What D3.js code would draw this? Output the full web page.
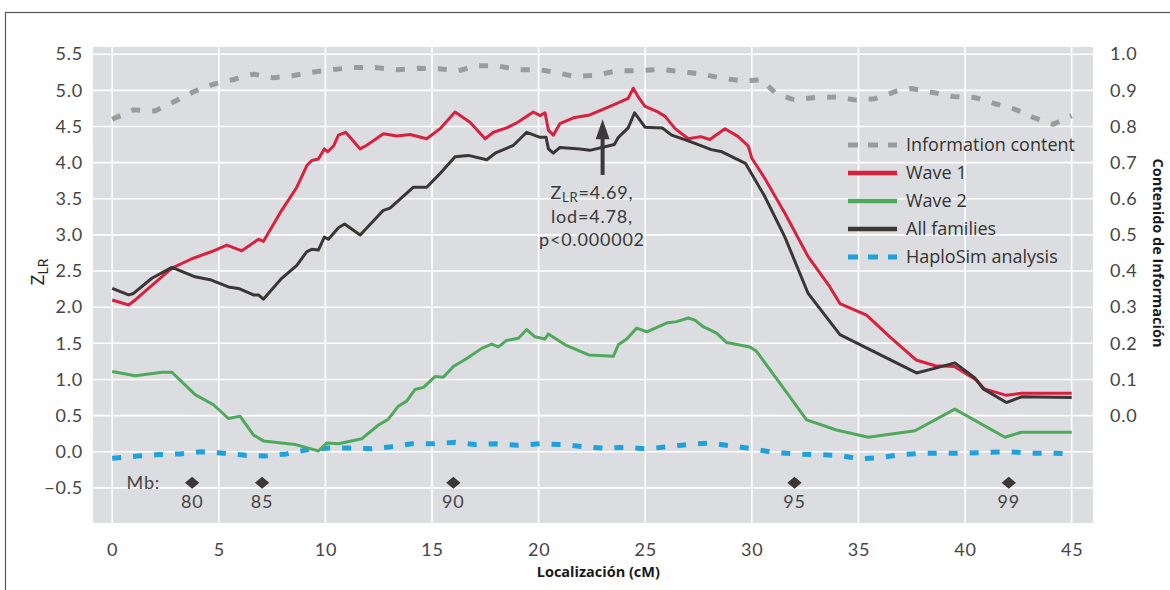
<!DOCTYPE html>
<html>
<head>
<meta charset="utf-8">
<script src="https://cdn.jsdelivr.net/npm/d3@7"></script>
<style>
  html, body { margin: 0; padding: 0; background: #fff; }
  svg { display: block; }
  .tick-lbl { font-family: Lato, "Noto Sans", sans-serif; font-size: 18px; fill: #454545; letter-spacing: 0.8px; }
  .legend-lbl { font-family: "Open Sans", "Noto Sans", sans-serif; font-size: 18px; fill: #333; }
  .axis-title { font-family: "Open Sans", "Noto Sans", sans-serif; font-weight: 700; font-size: 14.5px; fill: #1a1a1a; }
</style>
</head>
<body>
<svg id="chart" width="1170" height="590"></svg>
<script>
// ---- data: linkage scan along the region (position in cM) ----
const wave1Pos = [0, 0.77, 1.08, 2.8, 3.74, 4.67, 5.38, 6.08, 6.86, 7.09, 7.95, 8.66, 9.13, 9.36, 9.67, 9.95, 10.11, 10.38, 10.61, 10.95, 11.63, 11.94, 12.72, 13.35, 13.97, 14.75, 15.38, 16.08, 16.78, 17.49, 17.88, 18.5, 18.97, 19.75, 20.07, 20.3, 20.46, 20.69, 21.0, 21.63, 22.4, 23.43, 24.2, 24.44, 24.67, 24.99, 25.54, 25.93, 26.4, 27.02, 27.6, 28.03, 28.74, 29.36, 29.83, 30.0, 30.61, 31.55, 32.64, 33.66, 34.13, 35.38, 36.47, 37.7, 38.6, 39.5, 40.54, 40.9, 41.94, 42.65, 45.0];
const wave1Z = [2.10, 2.03, 2.10, 2.54, 2.67, 2.77, 2.86, 2.78, 2.94, 2.91, 3.34, 3.66, 3.96, 4.03, 4.05, 4.19, 4.15, 4.23, 4.38, 4.42, 4.19, 4.24, 4.40, 4.37, 4.39, 4.33, 4.47, 4.70, 4.56, 4.33, 4.42, 4.48, 4.55, 4.70, 4.65, 4.69, 4.45, 4.38, 4.54, 4.62, 4.66, 4.79, 4.89, 5.03, 4.91, 4.78, 4.71, 4.64, 4.47, 4.33, 4.36, 4.32, 4.47, 4.36, 4.23, 4.06, 3.78, 3.30, 2.70, 2.28, 2.05, 1.89, 1.59, 1.27, 1.19, 1.18, 0.99, 0.87, 0.78, 0.81, 0.81];

const wave2Pos = [0, 1.08, 2.33, 2.8, 3.89, 4.75, 5.45, 6.0, 6.63, 7.09, 8.58, 9.2, 9.67, 10.06, 10.61, 11.71, 12.49, 12.95, 13.42, 13.81, 14.2, 14.6, 15.14, 15.53, 16.0, 16.63, 17.33, 17.8, 18.11, 18.5, 19.05, 19.44, 19.83, 20.3, 20.46, 21.24, 22.35, 23.5, 23.74, 24.13, 24.6, 25.07, 26.0, 26.47, 27.02, 27.33, 27.72, 28.35, 28.82, 29.91, 30.22, 32.57, 33.97, 35.46, 37.65, 39.52, 41.87, 42.65, 45.0];
const wave2Z = [1.11, 1.05, 1.10, 1.10, 0.79, 0.65, 0.46, 0.49, 0.23, 0.15, 0.10, 0.05, 0.01, 0.12, 0.11, 0.18, 0.37, 0.45, 0.63, 0.70, 0.86, 0.89, 1.04, 1.03, 1.18, 1.29, 1.43, 1.49, 1.45, 1.54, 1.57, 1.69, 1.59, 1.56, 1.63, 1.48, 1.34, 1.32, 1.48, 1.56, 1.71, 1.66, 1.78, 1.80, 1.85, 1.82, 1.73, 1.64, 1.51, 1.45, 1.39, 0.44, 0.30, 0.20, 0.29, 0.59, 0.20, 0.27, 0.27];

const allPos = [0, 0.77, 1.0, 1.86, 2.8, 3.89, 4.59, 5.45, 5.92, 6.63, 6.86, 7.09, 7.95, 8.66, 9.13, 9.36, 9.67, 9.95, 10.14, 10.61, 10.9, 11.63, 12.72, 13.03, 14.13, 14.75, 15.38, 16.08, 16.7, 17.57, 17.96, 18.82, 19.44, 20.07, 20.35, 20.46, 20.69, 21.0, 21.94, 22.4, 23.55, 23.74, 24.2, 24.5, 24.99, 25.8, 26.24, 27.02, 28.1, 28.6, 29.7, 30.61, 31.55, 32.64, 34.13, 37.72, 38.66, 39.52, 40.46, 40.85, 41.94, 42.65, 45.0];
const allZ = [2.26, 2.17, 2.19, 2.40, 2.55, 2.42, 2.38, 2.28, 2.26, 2.17, 2.17, 2.11, 2.40, 2.58, 2.77, 2.80, 2.79, 2.97, 2.94, 3.10, 3.15, 3.00, 3.34, 3.37, 3.66, 3.66, 3.85, 4.08, 4.10, 4.04, 4.13, 4.24, 4.42, 4.35, 4.35, 4.19, 4.13, 4.21, 4.19, 4.17, 4.25, 4.35, 4.48, 4.69, 4.49, 4.48, 4.38, 4.30, 4.18, 4.15, 3.99, 3.53, 2.97, 2.19, 1.62, 1.09, 1.16, 1.23, 1.02, 0.87, 0.68, 0.76, 0.75];

const haploPos = [0, 1.2, 2.17, 3.19, 4.2, 5.22, 6.24, 7.17, 8.19, 9.2, 10.14, 11.1, 12.17, 13.1, 14.05, 15.06, 16.08, 17.02, 18.0, 19.05, 20.07, 21.1, 22.1, 23.0, 24.0, 25.07, 26.08, 27.02, 28.04, 29.05, 30.06, 31.0, 32.0, 33.05, 34.05, 35.07, 36.0, 37.02, 38.04, 39.0, 40.0, 41.1, 42.02, 43.1, 44.1, 45.0];
const haploZ = [-0.09, -0.06, -0.04, -0.03, 0.0, -0.02, -0.05, -0.06, -0.03, 0.03, 0.05, 0.05, 0.04, 0.07, 0.11, 0.11, 0.13, 0.10, 0.11, 0.09, 0.11, 0.10, 0.07, 0.05, 0.06, 0.04, 0.07, 0.10, 0.12, 0.08, 0.04, -0.01, -0.03, -0.04, -0.05, -0.10, -0.08, -0.04, -0.02, -0.02, -0.02, -0.01, 0.0, -0.02, -0.02, -0.03];

// information content, read on the right-hand axis (0 to 1)
const infoPos = [0, 1.0, 2.0, 2.95, 3.81, 4.75, 5.69, 6.63, 7.56, 8.42, 9.36, 10.38, 11.31, 12.33, 13.42, 14.36, 15.3, 16.24, 17.1, 18.03, 19.05, 20.03, 20.77, 21.71, 22.72, 23.66, 24.67, 25.69, 26.71, 27.65, 28.66, 29.6, 30.46, 31.12, 31.98, 32.96, 33.97, 34.91, 35.77, 36.79, 37.49, 38.5, 39.44, 40.46, 41.4, 42.33, 43.19, 44.13, 45.0];
const infoContent = [0.82, 0.846, 0.843, 0.87, 0.896, 0.917, 0.93, 0.945, 0.935, 0.94, 0.95, 0.958, 0.963, 0.963, 0.957, 0.961, 0.96, 0.954, 0.968, 0.968, 0.957, 0.957, 0.95, 0.938, 0.942, 0.954, 0.954, 0.958, 0.952, 0.945, 0.933, 0.926, 0.929, 0.892, 0.874, 0.88, 0.882, 0.873, 0.877, 0.898, 0.905, 0.894, 0.883, 0.88, 0.863, 0.848, 0.825, 0.806, 0.83];

// physical map markers (Mb)
const mbLabels = ["80", "85", "90", "95", "99"];
const mbPos = [3.75, 7.03, 16.0, 32.0, 42.05];

// axis ticks
const xTicks = [0, 5, 10, 15, 20, 25, 30, 35, 40, 45];
const yTicks = [-0.5, 0, 0.5, 1, 1.5, 2, 2.5, 3, 3.5, 4, 4.5, 5, 5.5];
const rightTicks = [0, 0.1, 0.2, 0.3, 0.4, 0.5, 0.6, 0.7, 0.8, 0.9, 1.0];

// peak annotation
const peakPos = 23.0;
const peakLines = [["Z", "LR", "=4.69,"], ["lod=4.78,"], ["p<0.000002"]];

const seriesNames = ["Information content", "Wave 1", "Wave 2", "All families", "HaploSim analysis"];

// ---- layout ----
const svg = d3.select("#chart");
const plot = { left: 93, right: 1093, top: 47, bottom: 523 };

const x = d3.scaleLinear().domain([-0.9, 46]).range([plot.left, plot.right]);
const y = d3.scaleLinear().domain([-1, 5.6]).range([524, plot.top]);
const yInfo = d3.scaleLinear().domain([0, 1]).range([y(0.5), y(5.5)]);

const colors = {
  info: "#9b9b9d",
  wave1: "#d9213f",
  wave2: "#4fa85c",
  all: "#3b3536",
  haplo: "#1ea2dd"
};

// outer frame
svg.append("rect")
  .attr("x", 5.5).attr("y", 12.5)
  .attr("width", 1200).attr("height", 700)
  .attr("fill", "none").attr("stroke", "#555").attr("stroke-width", 1.2);

// plot background
svg.append("rect")
  .attr("x", plot.left).attr("y", plot.top)
  .attr("width", plot.right - plot.left).attr("height", plot.bottom - plot.top)
  .attr("fill", "#dcdde0");

// grid
const grid = svg.append("g").attr("stroke", "#fff").attr("stroke-width", 1.6);
grid.selectAll("line.h").data(yTicks).join("line")
  .attr("x1", plot.left).attr("x2", plot.right)
  .attr("y1", d => y(d)).attr("y2", d => y(d));
grid.selectAll("line.v").data(xTicks).join("line")
  .attr("x1", d => x(d)).attr("x2", d => x(d))
  .attr("y1", plot.top).attr("y2", plot.bottom);

// axes (labels only; the grid carries the ticks)
const fmt1 = v => d3.format(".1f")(v).replace("-", "\u2212");

const xAxis = svg.append("g")
  .attr("transform", `translate(0,${plot.bottom})`)
  .call(d3.axisBottom(x).tickValues(xTicks).tickSize(0).tickPadding(20));
const yAxis = svg.append("g")
  .attr("transform", `translate(${plot.left},0)`)
  .call(d3.axisLeft(y).tickValues(yTicks).tickFormat(fmt1).tickSize(0).tickPadding(10));
const rAxis = svg.append("g")
  .attr("transform", `translate(${plot.right},0)`)
  .call(d3.axisRight(yInfo).tickValues(rightTicks).tickFormat(fmt1).tickSize(0).tickPadding(17));

[xAxis, yAxis, rAxis].forEach(a => {
  a.select(".domain").remove();
  a.selectAll("text").attr("class", "tick-lbl").attr("fill", null)
    .attr("font-family", null).attr("font-size", null);
});

// series lines
const line = d3.line().x(d => x(d[0])).y(d => y(d[1]));
const lineInfo = d3.line().x(d => x(d[0])).y(d => yInfo(d[1]));
const zip = (a, b) => a.map((v, i) => [v, b[i]]);

const curves = svg.append("g").attr("fill", "none").attr("stroke-linejoin", "round");

curves.append("path")
  .attr("d", lineInfo(zip(infoPos, infoContent)))
  .attr("stroke", colors.info).attr("stroke-width", 5)
  .attr("stroke-dasharray", "9,12");

curves.append("path")
  .attr("d", line(zip(haploPos, haploZ)))
  .attr("stroke", colors.haplo).attr("stroke-width", 5)
  .attr("stroke-dasharray", "9,12");

curves.append("path")
  .attr("d", line(zip(wave2Pos, wave2Z)))
  .attr("stroke", colors.wave2).attr("stroke-width", 3);

curves.append("path")
  .attr("d", line(zip(wave1Pos, wave1Z)))
  .attr("stroke", colors.wave1).attr("stroke-width", 3);

curves.append("path")
  .attr("d", line(zip(allPos, allZ)))
  .attr("stroke", colors.all).attr("stroke-width", 3);

// Mb markers
const mb = svg.append("g");
mb.selectAll("path").data(mbPos).join("path")
  .attr("d", d3.symbol(d3.symbolDiamond2, 130))
  .attr("transform", d => `translate(${x(d)},${y(-0.43)}) scale(1,0.85)`)
  .attr("fill", "#3d3737");
mb.selectAll("text.mb").data(mbLabels).join("text")
  .attr("class", "tick-lbl")
  .attr("x", (d, i) => x(mbPos[i]))
  .attr("y", y(-0.69))
  .attr("dy", "0.35em")
  .attr("text-anchor", "middle")
  .text(d => d);
mb.append("text")
  .attr("class", "tick-lbl")
  .attr("x", x(2.25)).attr("y", y(-0.43)).attr("dy", "0.35em")
  .attr("text-anchor", "end")
  .text("Mb:");

// peak annotation arrow + text
const ann = svg.append("g");
const ax = x(peakPos);
const tipY = y(4.6), baseY = y(3.83), headY = tipY + 19;
ann.append("line")
  .attr("x1", ax).attr("x2", ax).attr("y1", baseY).attr("y2", headY)
  .attr("stroke", "#3d3939").attr("stroke-width", 4);
ann.append("path")
  .attr("d", `M${ax},${tipY} L${ax - 7},${headY + 1} L${ax + 7},${headY + 1} Z`)
  .attr("fill", "#3d3939");

peakLines.forEach((parts, i) => {
  const t = ann.append("text")
    .attr("class", "tick-lbl")
    .attr("x", x(22.5))
    .attr("y", 199 + i * 23.5)
    .attr("text-anchor", "middle")
    .style("fill", "#3a3a3a");
  if (parts.length === 3) {
    t.append("tspan").text(parts[0]);
    t.append("tspan").attr("dy", 3).style("font-size", "13px").text(parts[1]);
    t.append("tspan").attr("dy", -3).text(parts[2]);
  } else {
    t.text(parts[0]);
  }
});

// legend
const legend = svg.append("g");
const legY0 = 145, legStep = 28;
const legStyles = [
  { c: colors.info, w: 5, dash: "10,10" },
  { c: colors.wave1, w: 4.5, dash: null },
  { c: colors.wave2, w: 4.5, dash: null },
  { c: colors.all, w: 4.5, dash: null },
  { c: colors.haplo, w: 5, dash: "10,10" }
];
seriesNames.forEach((name, i) => {
  const gy = legY0 + i * legStep;
  legend.append("line")
    .attr("x1", 848).attr("x2", 897).attr("y1", gy).attr("y2", gy)
    .attr("stroke", legStyles[i].c).attr("stroke-width", legStyles[i].w)
    .attr("stroke-dasharray", legStyles[i].dash);
  legend.append("text")
    .attr("class", "legend-lbl")
    .attr("x", 906).attr("y", gy).attr("dy", "0.35em")
    .text(name);
});

// axis titles
svg.append("text")
  .attr("class", "axis-title")
  .attr("x", x(22.8)).attr("y", 577)
  .attr("text-anchor", "middle")
  .text("Localización (cM)");

svg.append("text")
  .attr("class", "axis-title")
  .attr("transform", `translate(1153,253) rotate(90)`)
  .attr("text-anchor", "middle")
  .text("Contenido de Información");

const zTitle = svg.append("text")
  .attr("transform", `translate(44,272) rotate(-90)`)
  .attr("text-anchor", "middle")
  .style("font-family", "'Open Sans', 'Noto Sans', sans-serif")
  .style("font-size", "19px")
  .style("fill", "#222");
zTitle.append("tspan").text("Z");
zTitle.append("tspan").attr("dy", 4).style("font-size", "14px").text("LR");
</script>
</body>
</html>
